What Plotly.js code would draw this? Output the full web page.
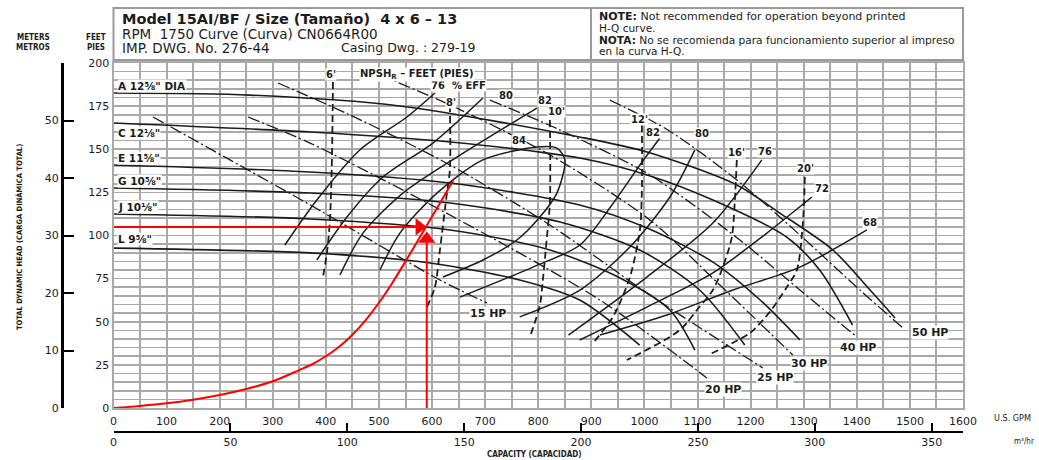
<!DOCTYPE html>
<html><head><meta charset="utf-8">
<script src="https://cdn.plot.ly/plotly-3.0.1.min.js"></script>
<style>html,body{margin:0;padding:0;background:#fff}#chart{width:1039px;height:460px}</style>
</head><body><div id="chart"></div>
<script>
// ---------- axis ticks ----------
const gpmTicks = [0,100,200,300,400,500,600,700,800,900,1000,1100,1200,1300,1400,1500,1600];
const feetTicks = [0,25,50,75,100,125,150,175,200];
const meterTicks = [0,10,20,30,40,50];
const m3hTicks = [0,50,100,150,200,250,300,350];

// ---------- impeller head curves (GPM, feet) ----------
const impA_q = [0,257,539,878,1005,1174,1255,1355,1425,1472];
const impA_h = [182.6,181.4,175.1,157.1,148.4,129.3,113.0,91.6,68.4,52.2];
const impC_q = [0,370,634,878,1005,1129,1268,1330,1392];
const impC_h = [165.2,160.0,154.2,144.9,135.1,120.6,99.1,80.0,48.1];
const impE_q = [0,370,634,878,1005,1129,1218,1293];
const impE_h = [140.9,136.8,130.4,117.7,104.3,84.6,62.6,39.4];
const impG_q = [0,370,634,841,991,1104,1189];
const impG_h = [127.5,124.6,118.8,107.8,91.6,68.4,36.5];
const impJ_q = [0,370,634,822,954,1048,1095];
const impJ_h = [112.5,109.6,103.2,91.6,75.4,56.8,33.6];
const impL_q = [0,370,596,765,878,991];
const impL_h = [92.7,89.9,84.1,74.2,62.6,36.5];
const impLabels = ['A 12⅝" DIA','C 12⅛"','E 11⅝"','G 10⅝"','J 10⅛"','L 9⅝"'];

// ---------- efficiency curves ----------
const eff76L_q = [322.7,383,464,552.7,605.4];
const eff76L_h = [94.5,120.6,149.6,168.7,182.6];
const eff80L_q = [383,439.7,507.5,601.6,695.8];
const eff80L_h = [85.8,110.7,133.9,153.6,179.7];
const eff82L_q = [426.5,469.8,545.1,646.8,797.5];
const eff82L_h = [77.1,101.4,124.6,145.5,173.9];
const eff84_q = [501.8,539.5,609.2,695.8,797.5,835.1,850.2,835.1,803.1,759.8,695.8,620.5];
const eff84_h = [80.0,101.4,124.6,143.8,151.3,150.7,143.8,124.6,110.7,97.4,85.8,75.9];
const eff82R_q = [652.6,790.0,878.5,938.8,991.5,1029.2];
const eff82R_h = [64.3,81.7,94.5,117.7,140.9,156.5];
const eff80R_q = [765,878.5,972.6,1048,1095];
const eff80R_h = [52.8,68.4,93.3,122.3,149.6];
const eff76R_q = [857,1004.6,1128.9,1221.2];
const eff76R_h = [42.3,75.9,107.2,143.8];
const eff72R_q = [878,1004.6,1128.9,1230.6,1315.3];
const eff72R_h = [39.4,58.5,78.3,101.4,122.3];
const eff68R_q = [916.1,1042.4,1166.7,1292.8,1419];
const eff68R_h = [42.3,53.9,68.4,81.7,103.2];

// ---------- NPSHr lines ----------
const npsh6_q = [413.3,411.4,407.7,402,394.5];
const npsh6_h = [189,143.8,109,89.9,75.9];
const npsh8_q = [633.6,633.6,628,614.8,605.4,590.3];
const npsh8_h = [175.7,138,124.6,91.6,70.1,58.5];
const npsh10_q = [821.9,821.9,816.3,808.7,803.1,784.3];
const npsh10_h = [167,118.8,99.1,74.2,59.7,41.2];
const npsh12_q = [995.2,995.2,991.5,972.6,940.6,903];
const npsh12_h = [164.1,126.4,103.2,75.9,52.8,37.7];
const npsh16_q = [1174,1170.3,1164.6,1147.7,1128.9,1098.8,1066.8,966.9];
const npsh16_h = [143.8,120.6,99.1,81.7,68.4,56.8,45.2,27.8];
const npsh20_q = [1302.1,1298.4,1287.1,1268.2,1236.2,1198.6,1119.6];
const npsh20_h = [133.9,107.2,80,70.1,55.7,43.5,30.7];

// ---------- horsepower lines ----------
const hp15_q = [74.4,219.4,364.4,614.9,703.3];
const hp15_h = [168.7,143.8,118.8,74.2,60.9];
const hp20_q = [253.3,370,633.6,916.1,1117.6];
const hp20_h = [168.7,153.6,111.9,62.6,17.4];
const hp25_q = [309.8,445.3,633.6,821.9,1010.2,1223.0];
const hp25_h = [188.4,169.9,140.9,106.1,65.5,23.2];
const hp30_q = [501.8,633.6,821.9,1010.2,1142.1,1279.5];
const hp30_h = [193.0,175.7,146.7,109.0,71.3,30.7];
const hp40_q = [709,840.7,1010.2,1179.7,1292.8,1400.1];
const hp40_h = [178.5,161.2,135.1,97.4,68.4,41.2];
const hp50_q = [934.9,1044.1,1174,1292.8,1405.8,1486.8];
const hp50_h = [178.5,161.2,132.2,100.3,68.4,46.4];

// ---------- system curve & duty point (red) ----------
const sys_q = [0,50,100,150,200,250,300,350,375,400,425,450,475,500,525,550,575,600,620,640];
const sys_h = [0,1.2,2.7,4.8,7.5,11,15.5,22,25.5,30,35.5,42.5,51,61,72.5,85,98,111,121.5,132];
const dutyFlow = 590;
const dutyHead = 105;

// ---------- build ----------
const INK = '#1c1c1c';
const RED = '#ff0000';
const FONT = 'DejaVu Sans, Verdana, sans-serif';
const traces = [];
function line(q, h, dash, w, color, smooth){
  traces.push({x:q, y:h, type:'scatter', mode:'lines', hoverinfo:'skip', showlegend:false,
    line:{color:color||INK, width:w||1.4, dash:dash||'solid', shape:'spline', smoothing:smooth||0.8}});
}
[[impA_q,impA_h],[impC_q,impC_h],[impE_q,impE_h],[impG_q,impG_h],[impJ_q,impJ_h],[impL_q,impL_h]]
  .forEach(c=>line(c[0],c[1],'solid',1.6));
[[eff76L_q,eff76L_h],[eff80L_q,eff80L_h],[eff82L_q,eff82L_h],[eff84_q,eff84_h],[eff82R_q,eff82R_h],
 [eff80R_q,eff80R_h],[eff76R_q,eff76R_h],[eff72R_q,eff72R_h],[eff68R_q,eff68R_h]]
  .forEach(c=>line(c[0],c[1],'solid',1.5));
[[npsh6_q,npsh6_h],[npsh8_q,npsh8_h],[npsh10_q,npsh10_h],[npsh12_q,npsh12_h],[npsh16_q,npsh16_h],[npsh20_q,npsh20_h]]
  .forEach(c=>line(c[0],c[1],'7px,4px',1.8));
[[hp15_q,hp15_h],[hp20_q,hp20_h],[hp25_q,hp25_h],[hp30_q,hp30_h],[hp40_q,hp40_h],[hp50_q,hp50_h]]
  .forEach(c=>line(c[0],c[1],'12px,3px,2px,3px',1.3));
line(sys_q, sys_h, 'solid', 2, RED, 1.0);
// duty point guide lines with arrow heads
traces.push({x:[0,dutyFlow-6], y:[dutyHead,dutyHead], type:'scatter', mode:'lines', hoverinfo:'skip', showlegend:false,
  line:{color:RED, width:2}});
traces.push({x:[dutyFlow,dutyFlow], y:[0,dutyHead-5], type:'scatter', mode:'lines', hoverinfo:'skip', showlegend:false,
  line:{color:RED, width:2}});
traces.push({x:[dutyFlow-14], y:[dutyHead], type:'scatter', mode:'markers', hoverinfo:'skip', showlegend:false,
  marker:{symbol:'triangle-right', size:15, color:RED, line:{width:0}}});
traces.push({x:[dutyFlow], y:[dutyHead-7], type:'scatter', mode:'markers', hoverinfo:'skip', showlegend:false,
  marker:{symbol:'triangle-up', size:15, color:RED, line:{width:0}}});
// dummy trace to activate secondary axes
traces.push({x:[0], y:[0], xaxis:'x2', yaxis:'y2', type:'scatter', mode:'markers',
  marker:{opacity:0}, hoverinfo:'skip', showlegend:false});

// pixel -> paper helpers for layout positions
const PX = p => (p-62)/901;
const PY = p => (432-p)/369;

const ann = [];
function label(text, px, py, opts){
  ann.push(Object.assign({text:text, xref:'paper', yref:'paper', x:PX(px), y:PY(py), showarrow:false,
    xanchor:'center', yanchor:'middle', font:{family:FONT, size:10, color:INK},
    bgcolor:'#ffffff', borderpad:0}, opts||{}));
}
// impeller labels
const impY = [86,133,158,181,207,239];
impLabels.forEach((t,i)=>label('<b>'+t+'</b>',117,impY[i],{xanchor:'left',font:{family:FONT,size:10.5,color:INK}}));
// efficiency labels
const B = t => '<b>'+t+'</b>';
label(B('76  % EFF'),458,85);
label(B('80'),506,95);
label(B('82'),545,100);
label(B('84'),519,140);
label(B('82'),653,132);
label(B('80'),702,133);
label(B('76'),765,151);
label(B('72'),822,188);
label(B('68'),870,222);
// NPSH labels
label(B("6'"),331,74);
label(B('NPSH<sub>R</sub> – FEET (PIES)'),417,74);
label(B("8'"),451,102);
label(B("10'"),556,112);
label(B("12'"),639,120);
label(B("16'"),736,152);
label(B("20'"),805,168);
// HP labels
const hpFont = {font:{family:FONT,size:11,color:INK}};
label(B('15 HP'),488,313,hpFont);
label(B('20 HP'),723,389,hpFont);
label(B('25 HP'),775,377,hpFont);
label(B('30 HP'),809,363,hpFont);
label(B('40 HP'),858,347,hpFont);
label(B('50 HP'),930,332,hpFont);

// header box texts
const hdr = (size)=>({bgcolor:'rgba(0,0,0,0)', xanchor:'left', font:{family:FONT,size:size,color:INK}});
label('<b>Model 15AI/BF / Size (Tamaño)  4 x 6 – 13</b>',121,19,hdr(14.5));
label('RPM  1750 Curve (Curva) CN0664R00',121,34,hdr(13.5));
label('IMP. DWG. No. 276-44',121,48,hdr(13.5));
label('Casing Dwg. : 279-19',340,48,hdr(12.5));
label('<b>NOTE:</b> Not recommended for operation beyond printed',598,17,hdr(11));
label('H-Q curve.',598,28,hdr(10.5));
label('<b>NOTA:</b> No se recomienda para funcionamiento superior al impreso',598,40,hdr(10.6));
label('en la curva H-Q.',598,51,hdr(10.5));

// axis captions
const capFont = 'DejaVu Sans Condensed, DejaVu Sans';
const cap = (size)=>({bgcolor:'rgba(0,0,0,0)', font:{family:capFont,size:size,color:INK}});
label('<b>METERS</b>',33,38,cap(8));
label('<b>METROS</b>',33,48,cap(8));
label('<b>FEET</b>',96,38,cap(8));
label('<b>PIES</b>',96,48,cap(8));
label('<b>TOTAL DYNAMIC HEAD (CARGA DINÁMICA TOTAL)</b>',19,237,Object.assign(cap(7.5),{textangle:-90}));
label('U.S. GPM',1012,418,cap(9));
label('m³/hr',1024,441,cap(8));
label('<b>CAPACITY (CAPACIDAD)</b>',534,454,cap(8));

const GRID = '#a9a9a9';
const yDom0 = (432-408)/369;
const xDom0 = (113.5-62)/901;
const layout = {
  width:1039, height:460,
  margin:{l:62, r:76, t:63, b:28},
  paper_bgcolor:'#ffffff', plot_bgcolor:'#ffffff',
  showlegend:false,
  font:{family:FONT, size:11, color:INK},
  xaxis:{domain:[xDom0,1], range:[0,1600], tickvals:gpmTicks, ticks:'', showgrid:true, gridcolor:GRID, gridwidth:2,
    minor:{dtick:50, tick0:0, showgrid:true, gridcolor:GRID, gridwidth:2},
    zeroline:false, showline:true, linecolor:GRID, linewidth:2, mirror:true, ticklabelstandoff:2,
    tickfont:{family:FONT,size:11,color:INK}, fixedrange:true},
  yaxis:{domain:[yDom0,1], range:[0,200], tickvals:feetTicks, ticks:'', showgrid:true, gridcolor:GRID, gridwidth:1.6,
    minor:{dtick:5, tick0:0, showgrid:true, gridcolor:GRID, gridwidth:1.6},
    zeroline:false, showline:true, linecolor:GRID, linewidth:2, mirror:true,
    tickfont:{family:FONT,size:11,color:INK}, fixedrange:true},
  yaxis2:{domain:[yDom0, yDom0+(1-yDom0)*60/60.96], range:[0,60], anchor:'free', position:0, overlaying:'y', side:'left',
    tickvals:meterTicks, ticks:'inside', ticklen:10, tickwidth:2, tickcolor:'#000', showline:true, linecolor:'#000', linewidth:2.5,
    showgrid:false, zeroline:false, tickfont:{family:FONT,size:11,color:INK}, fixedrange:true},
  xaxis2:{domain:[xDom0,1], range:[0,1600*0.22712], anchor:'free', position:0, overlaying:'x', side:'bottom',
    tickvals:m3hTicks, ticks:'inside', ticklen:8, tickwidth:2, tickcolor:'#000', showline:true, linecolor:'#000', linewidth:2,
    showgrid:false, zeroline:false, tickfont:{family:FONT,size:11,color:INK}, fixedrange:true},
  shapes:[
    {type:'rect', xref:'paper', yref:'paper', x0:PX(113.5), x1:PX(963), y0:PY(60), y1:PY(8), line:{color:'#9a9a9a', width:2}, fillcolor:'#ffffff'},
    {type:'line', xref:'paper', yref:'paper', x0:PX(591), x1:PX(591), y0:PY(60), y1:PY(8), line:{color:'#9a9a9a', width:2}}
  ],
  annotations:ann
};
Plotly.newPlot('chart', traces, layout, {staticPlot:true, displayModeBar:false});
</script></body></html>
